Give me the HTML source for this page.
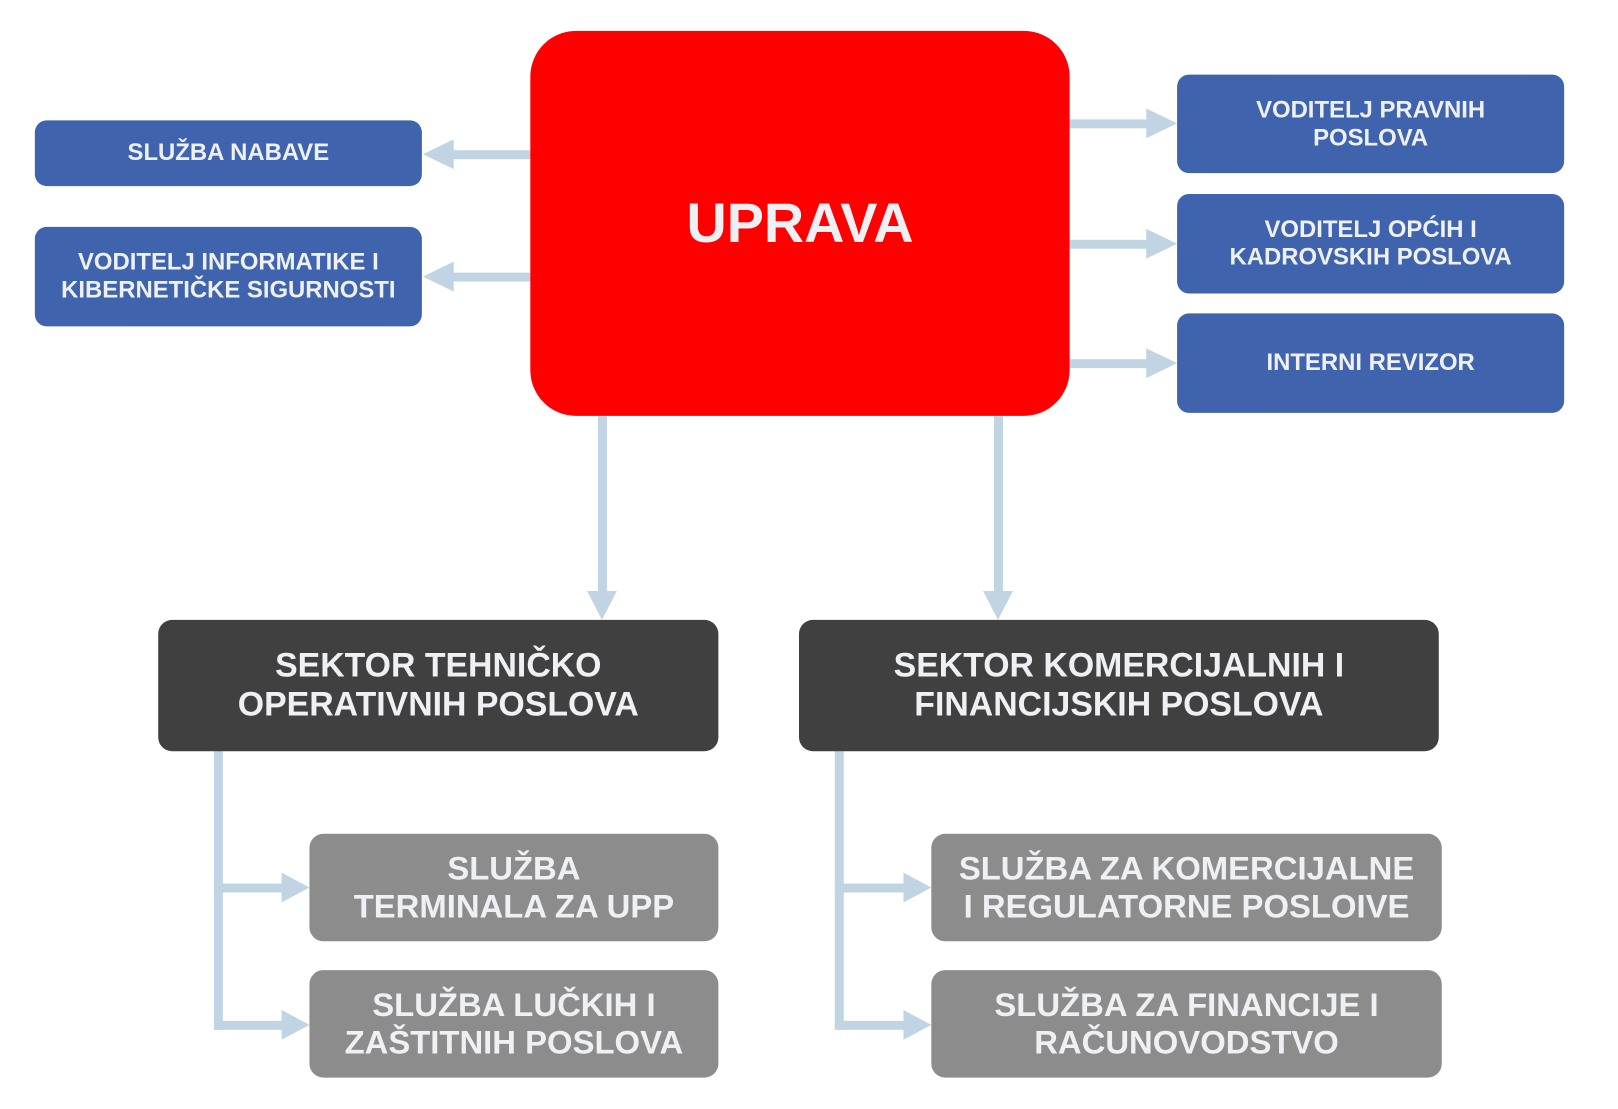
<!DOCTYPE html>
<html><head><meta charset="utf-8"><style>
body{margin:0;width:1618px;height:1109px;background:#fff;position:relative;overflow:hidden;font-family:"Liberation Sans",sans-serif;font-weight:bold;}
#w{position:absolute;left:0;top:0;width:1618px;height:1109px;transform:scale(0.995);transform-origin:0 0;}
.b{position:absolute;display:flex;align-items:center;justify-content:center;text-align:center;color:#eef0f4;line-height:1.15;}
.bl{background:#3f64ad;border-radius:12px;font-size:24px;}
.dk{background:#404040;border-radius:14px;font-size:34px;}
.gr{background:#8c8c8c;border-radius:14px;font-size:33px;}
svg{position:absolute;left:0;top:0}
</style></head><body><div id="w">
<svg width="1618" height="1109">
<g fill="#c0d4e4">
<rect x="454" y="151" width="80" height="9"/><polygon points="425,155 456,140 456,170"/>
<rect x="454" y="274" width="80" height="9"/><polygon points="425,278 456,263 456,293"/>
<rect x="1074" y="120" width="80" height="9"/><polygon points="1183,124 1152,109 1152,139"/>
<rect x="1074" y="241" width="80" height="9"/><polygon points="1183,245 1152,230 1152,260"/>
<rect x="1074" y="361" width="80" height="9"/><polygon points="1183,365 1152,350 1152,380"/>
<rect x="601" y="418" width="9" height="178"/><polygon points="605,623 590,594 620,594"/>
<rect x="999" y="418" width="9" height="178"/><polygon points="1003,623 988,594 1018,594"/>
<rect x="215" y="755" width="9" height="280"/>
<rect x="215" y="888" width="70" height="9"/><polygon points="311,892 283,877 283,907"/>
<rect x="215" y="1026" width="70" height="9"/><polygon points="311,1030 283,1015 283,1045"/>
<rect x="839" y="755" width="9" height="280"/>
<rect x="839" y="888" width="70" height="9"/><polygon points="936,892 908,877 908,907"/>
<rect x="839" y="1026" width="70" height="9"/><polygon points="936,1030 908,1015 908,1045"/>
</g></svg>
<div class="b" style="left:533px;top:31px;width:542px;height:387px;background:#ff0000;border-radius:46px;font-size:56px;">UPRAVA</div>
<div class="b bl" style="left:35px;top:121px;width:389px;height:66px;">SLUŽBA NABAVE</div>
<div class="b bl" style="left:35px;top:228px;width:389px;height:100px;">VODITELJ INFORMATIKE I<br>KIBERNETIČKE SIGURNOSTI</div>
<div class="b bl" style="left:1183px;top:75px;width:389px;height:99px;">VODITELJ PRAVNIH<br>POSLOVA</div>
<div class="b bl" style="left:1183px;top:195px;width:389px;height:100px;">VODITELJ OPĆIH I<br>KADROVSKIH POSLOVA</div>
<div class="b bl" style="left:1183px;top:315px;width:389px;height:100px;">INTERNI REVIZOR</div>
<div class="b dk" style="left:159px;top:623px;width:563px;height:132px;">SEKTOR TEHNIČKO<br>OPERATIVNIH POSLOVA</div>
<div class="b dk" style="left:803px;top:623px;width:643px;height:132px;">SEKTOR KOMERCIJALNIH I<br>FINANCIJSKIH POSLOVA</div>
<div class="b gr" style="left:311px;top:838px;width:411px;height:108px;">SLUŽBA<br>TERMINALA ZA UPP</div>
<div class="b gr" style="left:311px;top:975px;width:411px;height:108px;">SLUŽBA LUČKIH I<br>ZAŠTITNIH POSLOVA</div>
<div class="b gr" style="left:936px;top:838px;width:513px;height:108px;">SLUŽBA ZA KOMERCIJALNE<br>I REGULATORNE POSLOIVE</div>
<div class="b gr" style="left:936px;top:975px;width:513px;height:108px;">SLUŽBA ZA FINANCIJE I<br>RAČUNOVODSTVO</div>
</div></body></html>
